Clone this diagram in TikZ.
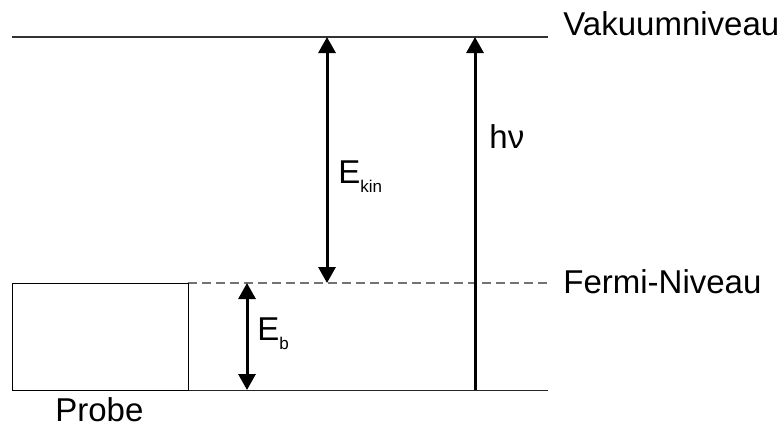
\documentclass[tikz,border=0pt]{standalone}
\usepackage{fontspec}
\setmainfont{Liberation Sans}
\usetikzlibrary{arrows.meta}

\newcommand{\lowidx}[1]{\raisebox{-4.7pt}{\fontsize{8.5}{9}\selectfont #1}}

\begin{document}
\begin{tikzpicture}[x=0.5pt, y=-0.5pt, >={Triangle[width=8.5pt, length=8pt]}, every node/.style={font=\fontsize{16.5}{19}\selectfont, inner sep=0pt}]
	\useasboundingbox (0,0) rectangle (782,425);
	
	% Niveaus
	\coordinate (vac) at (12,37);
	\coordinate (vacR) at (548,37);
	\coordinate (fer) at (188,283);
	\coordinate (ferR) at (548,283);
	\coordinate (bot) at (12,390);
	\coordinate (botR) at (548,390);
	\draw[line width=0.65pt, black!80] (vac) -- (vacR);
	\draw[black!55, line width=0.6pt, dash pattern=on 4.5pt off 2.5pt] (fer) -- (ferR);
	\draw[line width=0.5pt, black!85] (bot) -- (botR);
	\node[anchor=base west] (vakuum) at (563,35) {Vakuumniveau};
	\node[anchor=base west] (fermi) at (563,293) {Fermi-Niveau};
	
	% Probe
	\draw[line width=0.5pt] (bot) rectangle (fer);
	\node[anchor=base west] (probe) at (55,421) {Probe};
	
	% Energiepfeile
	\coordinate (xkin) at (327,0);
	\coordinate (xhv) at (475,0);
	\coordinate (xb) at (247,0);
	\draw[<->, line width=1.5pt] (xkin |- vac) -- (xkin |- fer);
	\draw[->, line width=1.5pt] (xhv |- bot) -- (xhv |- vac);
	\draw[<->, line width=1.5pt] (xb |- fer) -- (xb |- bot);
	\node[anchor=base west] (ekin) at (338,183) {E\lowidx{kin}};
	\node[anchor=base west] (hnu) at (489,148) {hν};
	\node[anchor=base west] (eb) at (257,340) {E\lowidx{b}};
\end{tikzpicture}
\end{document}
